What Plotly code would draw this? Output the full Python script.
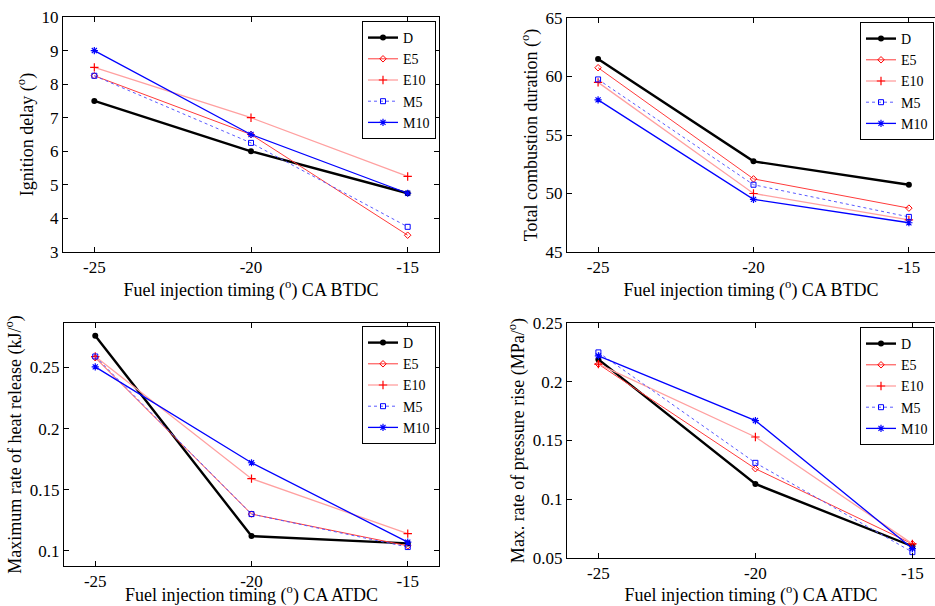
import plotly.graph_objects as go

# ---------------- data ----------------
timing = [-25, -20, -15]
timing_labels = ["-25", "-20", "-15"]
fuels = ["D", "E5", "E10", "M5", "M10"]

ign_D = [7.5, 6.0, 4.75]
ign_E5 = [8.25, 6.5, 3.5]
ign_E10 = [8.5, 7.0, 5.25]
ign_M5 = [8.25, 6.25, 3.75]
ign_M10 = [9.0, 6.5, 4.75]

dur_D = [61.5, 52.75, 50.75]
dur_E5 = [60.75, 51.25, 48.75]
dur_E10 = [59.5, 50.0, 47.75]
dur_M5 = [59.75, 50.75, 48.0]
dur_M10 = [58.0, 49.5, 47.5]

hrr_D = [0.276, 0.112, 0.106]
hrr_E5 = [0.258, 0.130, 0.104]
hrr_E10 = [0.259, 0.159, 0.114]
hrr_M5 = [0.259, 0.130, 0.103]
hrr_M10 = [0.2505, 0.172, 0.107]

prr_D = [0.219, 0.113, 0.060]
prr_E5 = [0.215, 0.126, 0.062]
prr_E10 = [0.215, 0.153, 0.062]
prr_M5 = [0.225, 0.131, 0.055]
prr_M10 = [0.222, 0.167, 0.058]

ign_ticks = [3, 4, 5, 6, 7, 8, 9, 10]
dur_ticks = [45, 50, 55, 60, 65]
hrr_ticks = [0.1, 0.15, 0.2, 0.25]
prr_ticks = [0.05, 0.1, 0.15, 0.2, 0.25]

# ---------------- styles ----------------
FONT = "Liberation Serif, Times New Roman, serif"
styles = {
    "D": dict(line=dict(color="black", width=2.4),
              marker=dict(symbol="circle", size=6, color="black")),
    "E5": dict(line=dict(color="#ff3b3b", width=1),
               marker=dict(symbol="diamond-open", size=5, color="red", line=dict(width=1, color="red"))),
    "E10": dict(line=dict(color="#ffa0a0", width=1.3),
                marker=dict(symbol="cross-thin-open", size=6, color="red", line=dict(width=1.2, color="red"))),
    "M5": dict(line=dict(color="#5a5aff", width=1, dash="dot"),
               marker=dict(symbol="square-open", size=5, color="blue", line=dict(width=1, color="blue"))),
    "M10": dict(line=dict(color="blue", width=1.3),
                marker=dict(symbol="asterisk-open", size=6, color="blue", line=dict(width=1.2, color="blue"))),
}

panels = [
    dict(data=[ign_D, ign_E5, ign_E10, ign_M5, ign_M10], xa="x", ya="y", lg="legend"),
    dict(data=[dur_D, dur_E5, dur_E10, dur_M5, dur_M10], xa="x2", ya="y2", lg="legend2"),
    dict(data=[hrr_D, hrr_E5, hrr_E10, hrr_M5, hrr_M10], xa="x3", ya="y3", lg="legend3"),
    dict(data=[prr_D, prr_E5, prr_E10, prr_M5, prr_M10], xa="x4", ya="y4", lg="legend4"),
]

fig = go.Figure()
for p in panels:
    for name, vals in zip(fuels, p["data"]):
        st = styles[name]
        fig.add_trace(go.Scatter(
            x=timing, y=vals, name=name, mode="lines+markers",
            line=st["line"], marker=st["marker"],
            xaxis=p["xa"], yaxis=p["ya"], legend=p["lg"],
        ))

W, H = 935, 606

def px_x(v):
    return v / W

def px_y(v):
    return 1 - v / H

tickfont = dict(family=FONT, size=17, color="black")
titlefont = dict(family=FONT, size=18, color="black")

def xax(domain, rng, yanchor, title):
    return dict(domain=domain, range=rng, anchor=yanchor, automargin=False,
                tickvals=timing, ticktext=timing_labels,
                ticks="inside", ticklen=5, tickcolor="black",
                showline=True, linecolor="black", linewidth=1, mirror="ticks",
                showgrid=False, zeroline=False, tickfont=tickfont,
                title=dict(text=title, font=titlefont, standoff=3))

def yax(domain, rng, xanchor, title, tickvals, mirror="ticks"):
    return dict(domain=domain, range=rng, anchor=xanchor, automargin=False,
                tickvals=tickvals, ticktext=[f"{v:g}" for v in tickvals],
                ticks="inside", ticklen=5, tickcolor="black",
                showline=True, linecolor="black", linewidth=1, mirror=mirror,
                showgrid=False, zeroline=False, tickfont=tickfont,
                title=dict(text=title, font=titlefont, standoff=3))

xt_b = "Fuel injection timing (<sup>o</sup>) CA BTDC"
xt_a = "Fuel injection timing (<sup>o</sup>) CA ATDC"

def legend_cfg(x, y):
    return dict(x=x, y=y, xanchor="right", yanchor="top",
                bgcolor="white", bordercolor="black", borderwidth=1,
                font=dict(family=FONT, size=14, color="black"),
                itemwidth=30, tracegroupgap=0)

fig.update_layout(
    width=W, height=H, autosize=False,
    margin=dict(l=0, r=0, t=0, b=0, autoexpand=False),
    paper_bgcolor="white", plot_bgcolor="white",
    xaxis=xax([px_x(63), px_x(439)], [-26, -14], "y", xt_b),
    yaxis=yax([px_y(252), px_y(17)], [3, 10], "x", "Ignition delay (<sup>o</sup>)", ign_ticks),
    xaxis2=xax([px_x(567), 1.0], [-26, -14.16], "y2", xt_b),
    yaxis2=yax([px_y(252), px_y(18)], [45, 65], "x2", "Total combustion duration (<sup>o</sup>)",
               dur_ticks, mirror=False),
    xaxis3=xax([px_x(64), px_x(439)], [-26, -14], "y3", xt_a),
    yaxis3=yax([px_y(566), px_y(323)], [0.0875, 0.2864], "x3",
               "Maximum rate of heat release (kJ/<sup>o</sup>)", hrr_ticks),
    xaxis4=xax([px_x(567), 1.0], [-26, -14.28], "y4", xt_a),
    yaxis4=yax([px_y(558), px_y(323)], [0.05, 0.25], "x4",
               "Max. rate of pressure rise (MPa/<sup>o</sup>)", prr_ticks, mirror=False),
    legend=legend_cfg(px_x(436), px_y(21)),
    legend2=legend_cfg(px_x(934), px_y(22)),
    legend3=legend_cfg(px_x(436), px_y(326)),
    legend4=legend_cfg(px_x(934), px_y(327)),
    showlegend=True,
)

fig.write_html(
    "out.html",
    config={"displayModeBar": False},
    post_script="document.body.style.margin='0';document.body.style.overflow='hidden';",
)
